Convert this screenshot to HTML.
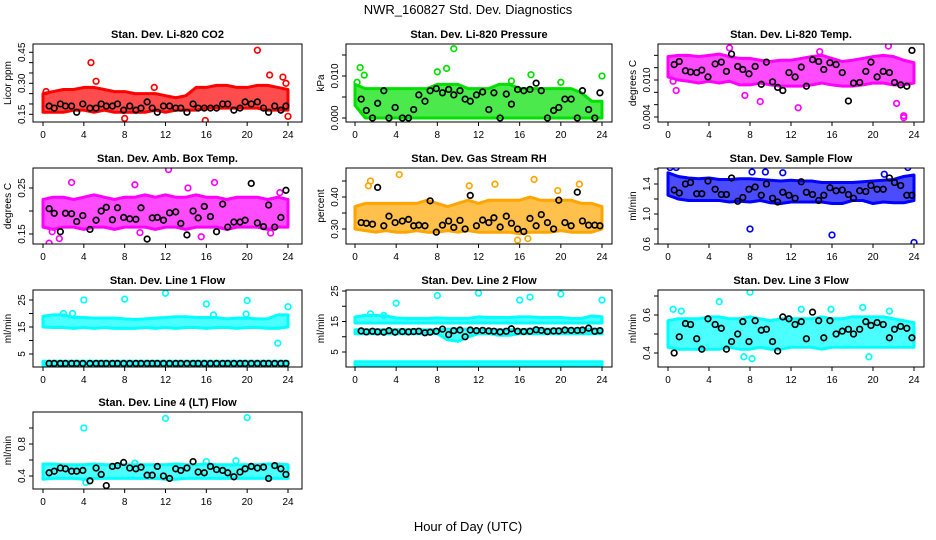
<!DOCTYPE html>
<html><head><meta charset="utf-8"><style>
html,body{margin:0;padding:0;background:#fff;}
svg{display:block;font-family:"Liberation Sans",sans-serif;}
</style></head><body>
<svg id="chart" width="936" height="540" viewBox="0 0 936 540" xmlns="http://www.w3.org/2000/svg">
<rect width="936" height="540" fill="#fff"/>
<text x="468" y="14" font-size="13" text-anchor="middle">NWR_160827  Std. Dev. Diagnostics</text>
<text x="468" y="531" font-size="13" text-anchor="middle">Hour of Day (UTC)</text>
</svg>
<script>
const hours=[0,1,2,3,4,5,6,7,8,9,10,11,12,13,14,15,16,17,18,19,20,21,22,23,24];
const xTicks=[0,4,8,12,16,20,24];
const blackHours=[0.6,1.1,1.7,2.2,2.8,3.3,3.9,4.6,5.2,5.7,6.2,6.8,7.3,7.9,8.5,9.1,9.6,10.2,10.7,11.2,11.8,12.4,13,13.5,14.1,14.7,15.2,15.8,16.4,17,17.6,18.1,18.7,19.3,19.8,20.4,21,21.6,22.1,22.7,23.3,23.8];

const co2Low=[0.16,0.16,0.16,0.17,0.17,0.16,0.17,0.16,0.16,0.16,0.16,0.17,0.16,0.17,0.17,0.17,0.18,0.18,0.18,0.18,0.18,0.18,0.17,0.17,0.17];
const co2High=[0.25,0.26,0.27,0.27,0.28,0.28,0.27,0.26,0.26,0.25,0.25,0.25,0.24,0.23,0.24,0.28,0.28,0.29,0.29,0.28,0.28,0.29,0.29,0.28,0.27];
const co2Black=[0.19,0.18,0.20,0.19,0.19,0.16,0.20,0.18,0.18,0.20,0.19,0.19,0.20,0.17,0.19,0.17,0.18,0.21,0.18,0.16,0.19,0.19,0.18,0.18,0.16,0.20,0.18,0.18,0.18,0.18,0.20,0.20,0.17,0.18,0.21,0.20,0.21,0.18,0.16,0.19,0.17,0.19];
const co2OutX=[4.7,21,15.9,0.3,8,22.2,23.5,24,10.9,5.2,23.8];
const co2OutY=[0.40,0.46,0.12,0.26,0.13,0.34,0.33,0.14,0.28,0.31,0.30];

const presLow=[0.003,0,0,0,0,0,0,0,0,0,0,0,0,0,0,0,0,0,0,0,0,0,0,0,0];
const presHigh=[0.008,0.007,0.007,0.007,0.007,0.007,0.007,0.007,0.008,0.008,0.008,0.007,0.007,0.007,0.008,0.008,0.007,0.007,0.007,0.007,0.007,0.007,0.006,0.004,0.004];
const presBlack=[0.0045,0.0018,0,0.0035,0.0065,0,0.0025,0,0,0.002,0.0055,0.004,0.0065,0.007,0.006,0.0068,0.0055,0.0065,0.0045,0.004,0.0055,0.0062,0.002,0.006,0,0.0057,0.0033,0.0068,0.0065,0.0068,0.0083,0.0065,0,0.0018,0.0025,0.0045,0.0045,0,0.0065,0.002,0,0.006];
const presOutX=[9.6,0.5,0.9,8,8.9,17.1,24,20,0.2,15.2];
const presOutY=[0.0165,0.012,0.0102,0.011,0.0118,0.0103,0.010,0.0085,0.0085,0.0088];

const tempLow=[0.0105,0.0100,0.0098,0.0095,0.0098,0.0095,0.0098,0.0092,0.0092,0.0095,0.0092,0.0090,0.0090,0.0090,0.0092,0.0095,0.0092,0.0090,0.0090,0.0092,0.0095,0.0095,0.0092,0.0092,0.0095];
const tempHigh=[0.0138,0.0140,0.0140,0.0138,0.0140,0.0142,0.0138,0.0135,0.0135,0.0132,0.0130,0.0132,0.0132,0.0135,0.0138,0.0140,0.0135,0.0130,0.0132,0.0135,0.0138,0.0140,0.0138,0.0132,0.0128];
const tempBlack=[0.0125,0.013,0.0115,0.0113,0.0112,0.0116,0.0105,0.0126,0.0129,0.0114,0.0142,0.0122,0.0117,0.011,0.0122,0.0093,0.0129,0.0097,0.0088,0.0083,0.0112,0.0105,0.0121,0.009,0.0133,0.013,0.0117,0.0128,0.0125,0.0112,0.0066,0.0095,0.0096,0.0114,0.0129,0.0105,0.0114,0.0112,0.0096,0.0092,0.009,0.0148];
const tempOutX=[0.8,7.5,9,12.7,22.3,23,23,6,21.5,0.5,14.8];
const tempOutY=[0.0083,0.0075,0.0065,0.0055,0.0062,0.0042,0.0039,0.0152,0.0155,0.0098,0.0146];

const ambLow=[0.165,0.16,0.165,0.165,0.16,0.165,0.165,0.16,0.165,0.165,0.165,0.16,0.165,0.165,0.16,0.165,0.165,0.165,0.16,0.165,0.165,0.165,0.16,0.165,0.165];
const ambHigh=[0.225,0.23,0.23,0.225,0.23,0.235,0.23,0.225,0.23,0.23,0.235,0.23,0.235,0.23,0.23,0.235,0.23,0.23,0.225,0.23,0.23,0.23,0.225,0.23,0.225];
const ambBlack=[0.205,0.195,0.155,0.195,0.194,0.177,0.19,0.16,0.18,0.20,0.208,0.181,0.207,0.186,0.183,0.182,0.207,0.139,0.185,0.186,0.18,0.196,0.198,0.173,0.148,0.2,0.185,0.21,0.188,0.155,0.215,0.165,0.176,0.176,0.18,0.26,0.174,0.166,0.213,0.165,0.186,0.245];
const ambOutX=[12.3,2.8,16.8,0.6,15.5,9,0.9,1.6,14.2,23.2,22.3,9.5];
const ambOutY=[0.29,0.262,0.262,0.13,0.144,0.257,0.155,0.14,0.25,0.24,0.152,0.153];

const rhLow=[0.30,0.295,0.29,0.295,0.29,0.29,0.295,0.29,0.29,0.295,0.29,0.295,0.29,0.29,0.29,0.29,0.285,0.29,0.29,0.29,0.295,0.29,0.29,0.29,0.30];
const rhHigh=[0.37,0.38,0.38,0.38,0.38,0.38,0.38,0.39,0.38,0.37,0.38,0.39,0.38,0.39,0.39,0.39,0.39,0.40,0.39,0.39,0.39,0.39,0.38,0.38,0.37];
const rhBlack=[0.32,0.318,0.315,0.43,0.31,0.34,0.32,0.325,0.33,0.31,0.312,0.31,0.388,0.29,0.312,0.325,0.305,0.327,0.30,0.405,0.31,0.328,0.32,0.335,0.306,0.34,0.318,0.30,0.292,0.333,0.31,0.345,0.32,0.30,0.39,0.32,0.31,0.415,0.325,0.312,0.312,0.31];
const rhOutX=[4.3,1.5,17.4,21.8,13.6,15.8,16.8,1.3,11.1,19.7];
const rhOutY=[0.47,0.45,0.455,0.44,0.44,0.265,0.27,0.435,0.435,0.42];

const flowLow=[1.25,1.2,1.18,1.18,1.18,1.18,1.16,1.17,1.16,1.18,1.15,1.14,1.16,1.16,1.16,1.16,1.14,1.14,1.18,1.18,1.14,1.16,1.15,1.15,1.18];
const flowHigh=[1.55,1.50,1.48,1.47,1.48,1.46,1.46,1.47,1.47,1.46,1.45,1.44,1.45,1.44,1.44,1.42,1.42,1.42,1.42,1.43,1.44,1.45,1.46,1.50,1.52];
const flowBlack=[1.32,1.28,1.40,1.42,1.27,1.27,1.44,1.33,1.26,1.26,1.48,1.17,1.22,1.33,1.36,1.25,1.40,1.21,1.16,1.29,1.25,1.21,1.43,1.29,1.26,1.18,1.25,1.35,1.31,1.32,1.26,1.21,1.31,1.30,1.38,1.33,1.33,1.48,1.42,1.38,1.25,1.25];
const flowOutX=[8,16,24,0.2,23.4,9.5,0.8,8.2,11.2,21.1];
const flowOutY=[0.80,0.72,0.62,1.62,1.62,1.56,1.62,1.56,1.55,1.53];

const l1Low=[15,14.8,14.8,14.5,14.8,14.5,14.8,14.5,14.5,14.5,14.8,14.5,14.8,14.5,14.8,14.8,14.5,14.8,14.8,14.5,14.8,14.8,14.5,14.5,15];
const l1High=[19,19.5,19.5,18.5,18.5,18.3,18.3,18.3,18,17.8,18,18.3,18.5,18.8,18.8,18.5,18.5,18.5,18,18.3,18.3,18,18,19.5,19.5];
const l1LowB=[0.8,0.8,0.8,0.8,0.8,0.8,0.8,0.8,0.8,0.8,0.8,0.8,0.8,0.8,0.8,0.8,0.8,0.8,0.8,0.8,0.8,0.8,0.8,0.8,0.8];
const l1HighB=[2.3,2.3,2.3,2.3,2.3,2.3,2.3,2.3,2.3,2.3,2.3,2.3,2.3,2.3,2.3,2.3,2.3,2.3,2.3,2.3,2.3,2.3,2.3,2.3,2.3];
const l1Black=[1.5,1.5,1.5,1.5,1.5,1.5,1.5,1.5,1.5,1.5,1.5,1.5,1.5,1.5,1.5,1.5,1.5,1.5,1.5,1.5,1.5,1.5,1.5,1.5,1.5,1.5,1.5,1.5,1.5,1.5,1.5,1.5,1.5,1.5,1.5,1.5,1.5,1.5,1.5,1.5,1.5,1.5];
const l1OutX=[4,8,12,16,20,23,24,16.7,2,2.9,19.9];
const l1OutY=[25,25.3,27.5,23.5,24.8,9,22.5,19.5,20,20,19.8];

const l2Low=[14.5,14.5,14.5,14.5,14.5,14.5,14.5,14.5,14.5,14.5,14.5,14.5,14.5,14.5,14.5,14.5,14.5,14.5,14.5,14.5,14.5,14.5,14.5,14.5,14.5];
const l2High=[16.5,17,17,16.8,16.2,16,16,16,16.2,16,16,16,16.5,16.3,16.3,16.3,16.5,16.5,16.3,16.3,16.3,16,16,16.8,16.5];
const l2LowM=[11,11,11,11,11,11,11,11,11,9,8.5,10,11,11,10.5,10.5,11,11,11,11,11,11,11,11,11];
const l2HighM=[12.3,12.3,12.3,12.3,12.3,12.3,12.3,12.3,12.3,12.5,12.5,12.5,12.3,12.3,12.3,12.3,12.3,12.5,12.5,12.5,12.5,12.5,12.5,12.5,12.5];
const l2LowB=[0.5,0.5,0.5,0.5,0.5,0.5,0.5,0.5,0.5,0.5,0.5,0.5,0.5,0.5,0.5,0.5,0.5,0.5,0.5,0.5,0.5,0.5,0.5,0.5,0.5];
const l2HighB=[1.8,1.8,1.8,1.8,1.8,1.8,1.8,1.8,1.8,1.8,1.8,1.8,1.8,1.8,1.8,1.8,1.8,1.8,1.8,1.8,1.8,1.8,1.8,1.8,1.8];
const l2Black=[11.9,11.6,11.8,11.6,11.5,12.0,11.5,11.7,11.6,11.7,11.8,11.3,11.5,11.8,12.5,10.7,12.0,12.2,10.0,12.2,12.0,12.1,11.9,11.8,11.6,11.8,12.6,11.8,11.7,11.8,12.3,12.1,11.7,11.9,11.9,12.2,12.1,12.1,12.2,12.8,11.8,12.0];
const l2OutX=[4,8,12,16,17,20,24,1.5,2.8];
const l2OutY=[21,23.5,24.3,22,23,24,22,17.5,17];

const l3Low=[0.43,0.42,0.42,0.42,0.42,0.42,0.43,0.42,0.42,0.43,0.42,0.42,0.43,0.43,0.43,0.42,0.43,0.43,0.43,0.43,0.43,0.43,0.43,0.43,0.43];
const l3High=[0.57,0.58,0.58,0.58,0.59,0.59,0.58,0.58,0.59,0.58,0.57,0.58,0.58,0.58,0.58,0.59,0.58,0.58,0.59,0.59,0.59,0.59,0.58,0.57,0.56];
const l3Black=[0.40,0.485,0.555,0.55,0.475,0.42,0.58,0.55,0.53,0.42,0.46,0.50,0.565,0.46,0.57,0.52,0.525,0.46,0.41,0.59,0.58,0.55,0.565,0.475,0.615,0.57,0.48,0.57,0.50,0.515,0.525,0.50,0.525,0.565,0.545,0.56,0.55,0.48,0.525,0.54,0.53,0.48];
const l3OutX=[8,8.2,5,0.5,19,7.4,19.6,15.9,1.3,21.6,13];
const l3OutY=[0.72,0.37,0.67,0.63,0.64,0.38,0.38,0.63,0.62,0.62,0.63];

const l4Low=[0.36,0.37,0.37,0.37,0.36,0.37,0.37,0.37,0.37,0.37,0.37,0.37,0.36,0.36,0.37,0.37,0.37,0.37,0.37,0.37,0.37,0.37,0.37,0.37,0.37];
const l4High=[0.55,0.55,0.54,0.54,0.54,0.55,0.54,0.54,0.54,0.54,0.54,0.54,0.54,0.55,0.54,0.54,0.55,0.54,0.54,0.54,0.54,0.54,0.55,0.55,0.54];
const l4Black=[0.44,0.46,0.50,0.49,0.46,0.46,0.47,0.34,0.50,0.42,0.28,0.52,0.53,0.57,0.50,0.49,0.51,0.41,0.41,0.52,0.40,0.37,0.49,0.47,0.50,0.58,0.45,0.44,0.52,0.48,0.47,0.44,0.39,0.45,0.49,0.52,0.50,0.51,0.37,0.53,0.49,0.42];
const l4OutX=[4,12,20,4.2,18.9,16,9];
const l4OutY=[1.0,1.12,1.13,0.32,0.59,0.58,0.56];

// layout (not data)
const cols=[{fl:33,fr:302,x0:43,x24:288},{fl:346,fr:612,x0:355,x24:602},{fl:658,fr:924,x0:668,x24:914}];
const rows=[{t:44,b:122},{t:168,b:244},{t:290,b:367},{t:412,b:489}];

const panels=[
 {id:'co2',title:'Stan. Dev. Li-820 CO2',ylab:'Licor ppm',c:0,r:0,v0:0.15,p0:114.3,v1:0.45,p1:52.3,ticks:[0.15,0.2,0.25,0.3,0.35,0.4,0.45],labels:['0.15','0.30','0.45'],color:'#ff0000',bands:[[co2Low,co2High]],black:co2Black,ox:co2OutX,oy:co2OutY},
 {id:'pressure',title:'Stan. Dev. Li-820 Pressure',ylab:'kPa',c:1,r:0,v0:0,p0:118,v1:0.01,p1:76,ticks:[0,0.005,0.01,0.015],labels:['0.000','0.010'],color:'#00e000',bands:[[presLow,presHigh]],black:presBlack,ox:presOutX,oy:presOutY},
 {id:'temp',title:'Stan. Dev. Li-820 Temp.',ylab:'degrees C',c:2,r:0,v0:0.004,p0:117,v1:0.010,p1:80,ticks:[0.004,0.006,0.008,0.01,0.012,0.014],labels:['0.004','0.010'],color:'#ff00ff',bands:[[tempLow,tempHigh]],black:tempBlack,ox:tempOutX,oy:tempOutY},
 {id:'ambbox',title:'Stan. Dev. Amb. Box Temp.',ylab:'degrees C',c:0,r:1,v0:0.15,p0:234,v1:0.25,p1:188,ticks:[0.15,0.2,0.25],labels:['0.15','0.25'],color:'#ff00ff',bands:[[ambLow,ambHigh]],black:ambBlack,ox:ambOutX,oy:ambOutY},
 {id:'rh',title:'Stan. Dev. Gas Stream RH',ylab:'percent',c:1,r:1,v0:0.30,p0:229,v1:0.40,p1:197,ticks:[0.3,0.35,0.4,0.45],labels:['0.30','0.40'],color:'#ffa500',bands:[[rhLow,rhHigh]],black:rhBlack,ox:rhOutX,oy:rhOutY},
 {id:'sampleflow',title:'Stan. Dev. Sample Flow',ylab:'ml/min',c:2,r:1,v0:1.0,p0:214,v1:1.4,p1:184,ticks:[0.6,0.8,1.0,1.2,1.4,1.6],labels:['0.6','1.0','1.4'],color:'#0000ff',bands:[[flowLow,flowHigh]],black:flowBlack,ox:flowOutX,oy:flowOutY},
 {id:'line1',title:'Stan. Dev. Line 1 Flow',ylab:'ml/min',c:0,r:2,v0:5,p0:354,v1:25,p1:300,ticks:[5,10,15,20,25],labels:['5','15','25'],color:'#00ffff',bands:[[l1Low,l1High],[l1LowB,l1HighB]],black:l1Black,ox:l1OutX,oy:l1OutY},
 {id:'line2',title:'Stan. Dev. Line 2 Flow',ylab:'ml/min',c:1,r:2,v0:5,p0:352,v1:25,p1:291,ticks:[5,10,15,20,25],labels:['5','15','25'],color:'#00ffff',bands:[[l2Low,l2High],[l2LowM,l2HighM],[l2LowB,l2HighB]],black:l2Black,ox:l2OutX,oy:l2OutY},
 {id:'line3',title:'Stan. Dev. Line 3 Flow',ylab:'ml/min',c:2,r:2,v0:0.4,p0:353,v1:0.6,p1:315,ticks:[0.4,0.5,0.6,0.7],labels:['0.4','0.6'],color:'#00ffff',bands:[[l3Low,l3High]],black:l3Black,ox:l3OutX,oy:l3OutY},
 {id:'line4',title:'Stan. Dev. Line 4 (LT) Flow',ylab:'ml/min',c:0,r:3,v0:0.4,p0:476,v1:0.8,p1:444,ticks:[0.4,0.6,0.8,1.0],labels:['0.4','0.8'],color:'#00ffff',bands:[[l4Low,l4High]],black:l4Black,ox:l4OutX,oy:l4OutY}
];

const NS='http://www.w3.org/2000/svg';
const svg=document.getElementById('chart');
function mk(tag,attrs,parent){const e=document.createElementNS(NS,tag);for(const k in attrs)e.setAttribute(k,attrs[k]);(parent||svg).appendChild(e);return e;}

panels.forEach(p=>{
  const col=cols[p.c], row=rows[p.r];
  const xs=h=>col.x0+(col.x24-col.x0)*h/24;
  const ys=v=>p.p0+(p.p1-p.p0)*(v-p.v0)/(p.v1-p.v0);
  const g=mk('g',{});
  
  
  const clipId='clip-'+p.id;
  const cp=mk('clipPath',{id:clipId},g);
  mk('rect',{x:col.fl,y:row.t,width:col.fr-col.fl,height:row.b-row.t},cp);
  const plot=mk('g',{'clip-path':'url(#'+clipId+')'},g);
  p.bands.forEach((b,bi)=>{
    let pts=[];
    hours.forEach((h,i)=>pts.push(xs(h)+','+ys(b[1][i])));
    for(let i=hours.length-1;i>=0;i--)pts.push(xs(hours[i])+','+ys(b[0][i]));
    const poly=mk('polygon',{points:pts.join(' '),fill:p.color,'fill-opacity':0.7,stroke:p.color,'stroke-width':3,'stroke-linejoin':'round'},plot);
    
    
  });
  p.ox.forEach((x,i)=>{
    const c=mk('circle',{cx:xs(x),cy:ys(p.oy[i]),r:2.8,fill:'none',stroke:p.color,'stroke-width':1.7},plot);
    
    
  });
  blackHours.forEach((h,i)=>{
    const c=mk('circle',{cx:xs(h),cy:ys(p.black[i]),r:2.8,fill:'none',stroke:'#000','stroke-width':1.7},plot);
    
    
  });
  const fr=mk('rect',{x:col.fl,y:row.t,width:col.fr-col.fl,height:row.b-row.t,fill:'none',stroke:'#000','stroke-width':1},g);
  
  
  const t=mk('text',{x:(col.fl+col.fr)/2,y:row.t-6,'font-size':11,'font-weight':'bold','text-anchor':'middle'},g);
  t.textContent=p.title;
  
  
  xTicks.forEach(h=>{
    mk('line',{x1:xs(h),x2:xs(h),y1:row.b,y2:row.b+4,stroke:'#000'},g);
    const l=mk('text',{x:xs(h),y:row.b+16,'font-size':10,'text-anchor':'middle'},g);
    l.textContent=h;
    
    
  });
  p.ticks.forEach(v=>{
    const y=ys(v); if(y<row.t-2||y>row.b+2)return;
    mk('line',{x1:col.fl-4,x2:col.fl,y1:y,y2:y,stroke:'#000'},g);
  });
  p.labels.forEach(s=>{
    const y=ys(parseFloat(s));
    const l=mk('text',{x:0,y:0,'font-size':10,'text-anchor':'middle',transform:'translate('+(col.fl-8)+','+y+') rotate(-90)'},g);
    l.textContent=s;
    
    
  });
  const yl=mk('text',{x:0,y:0,'font-size':10,'text-anchor':'middle',transform:'translate('+(col.fl-22)+','+((row.t+row.b)/2)+') rotate(-90)'},g);
  yl.textContent=p.ylab;
  
  
});
</script>
</body></html>
